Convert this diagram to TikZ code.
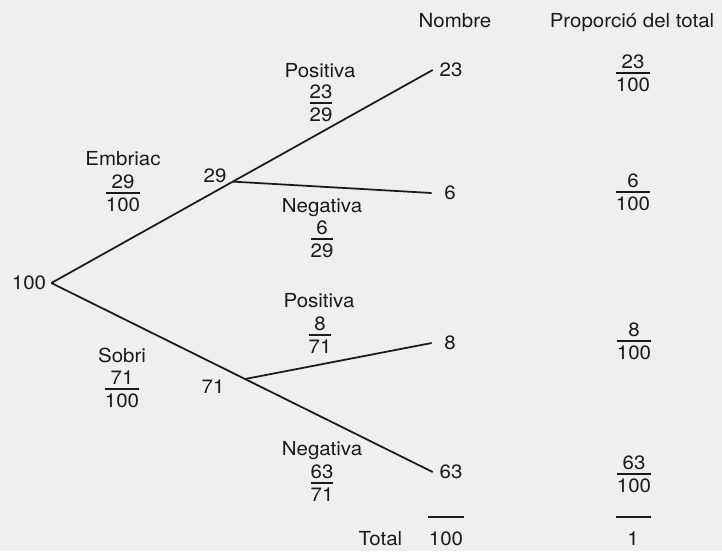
\documentclass[tikz,border=0pt]{standalone}
\usepackage{amsmath}
\usepackage{fontspec}
\setmainfont{TeX Gyre Heros}[FakeStretch=1.06]
\usetikzlibrary{positioning,calc}
\definecolor{paper}{HTML}{EEF0EF}
\definecolor{ink}{HTML}{1A1A1A}
\newcommand{\fr}[2]{$\genfrac{}{}{1pt}{1}{\mbox{#1}\rule[-1pt]{0pt}{1pt}}{\rule{0pt}{8.7pt}\mbox{#2}}$}

\begin{document}
\begin{tikzpicture}[
    x=0.02cm, y=-0.02cm,
    font=\fontsize{11}{13}\selectfont,
    color=ink,
    lbl/.style={anchor=base, inner sep=0pt},
    num/.style={inner sep=0pt, minimum width=0.72cm},
    frc/.style={anchor=base, inner sep=0pt},
    line/.style={draw=ink, line width=1pt}
]
    \fill[paper] (0,0) rectangle (722,551);
    \useasboundingbox (0,0) rectangle (722,551);

    % Nodes
    \node [num, minimum width=0.88cm] (root) at (29,283) {100};
    \node [num] (n23) at (451,70) {23};
    \node [num] (n6) at (450,193) {6};
    \node [num] (n8) at (450,343) {8};
    \node [num] (n63) at (451,472) {63};
    \coordinate (j29) at ($(root.east)!0.476!(n23.west)$);
    \coordinate (j71) at ($(root.east)!0.508!(n63.west)$);
    \node [num] (c29) at (215,176) {29};
    \node [num] (c71) at (213,387) {71};

    \node [lbl] (emb) at (123,165) {Embriac};
    \node [frc] (fe) at (123,198) {\fr{29}{100}};
    \node [lbl] (sob) at (122,362) {Sobri};
    \node [frc] (fs) at (122,394) {\fr{71}{100}};
    \node [lbl] (pos1) at (320,77) {Positiva};
    \node [frc] (fp1) at (321,108) {\fr{23}{29}};
    \node [lbl] (neg1) at (322,212) {Negativa};
    \node [frc] (fn1) at (322,244) {\fr{6}{29}};
    \node [lbl] (pos2) at (319,307) {Positiva};
    \node [frc] (fp2) at (320,340) {\fr{8}{71}};
    \node [lbl] (neg2) at (322,455) {Negativa};
    \node [frc] (fn2) at (322,488) {\fr{63}{71}};

    \node [lbl] (nom) at (455,28) {Nombre};
    \node [lbl] (prop) at (632,28) {Proporció del total};
    \node [frc] (r23) at (633,78) {\fr{23}{100}};
    \node [frc] (r6) at (633,197) {\fr{6}{100}};
    \node [frc] (r8) at (634,346) {\fr{8}{100}};
    \node [frc] (r63) at (634,479) {\fr{63}{100}};

    \node [lbl] (tot) at (446,545) {100};
    \node [inner sep=0pt, left=0.52cm of tot.east, anchor=base east] (totl) at (tot.base west) {Total};
    \node [lbl] (one) at (633,545) {1};
    \coordinate (s1) at (428,517);
    \coordinate (s2) at (616,517);

    % Paths
    \path [line] (root.east) -- (n23.west);
    \path [line] (root.east) -- (n63.west);
    \path [line] (j29) -- (n6.west);
    \path [line] (j71) -- (n8.west);
    \path [line] (s1) -- ++(36,0);
    \path [line] (s2) -- ++(35,0);

\end{tikzpicture}
\end{document}
